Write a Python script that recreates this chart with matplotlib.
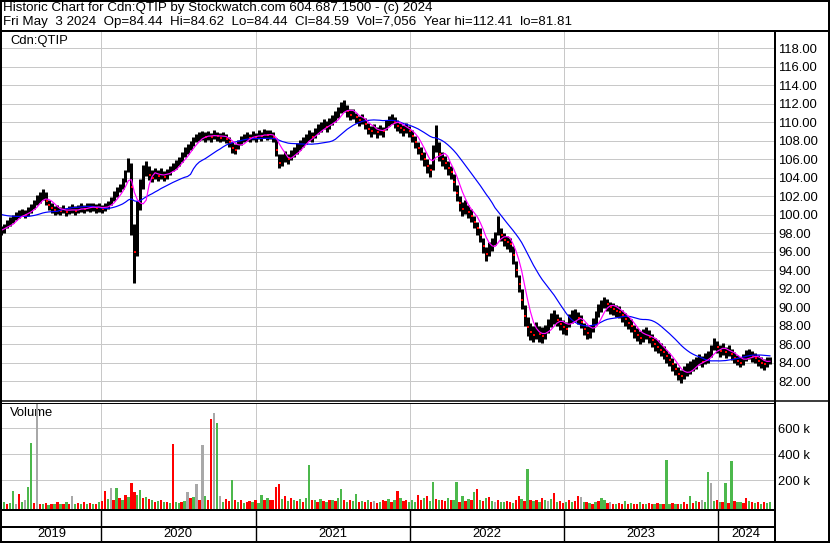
import numpy as np
import pandas as pd
import matplotlib
matplotlib.use("Agg")
import matplotlib.pyplot as plt
import matplotlib.dates as mdates
from matplotlib.lines import Line2D

plt.rcParams['font.family'] = ['Liberation Sans', 'DejaVu Sans']
plt.rcParams['font.size'] = 9

W, H = 830, 543

# weekly bars, 2019-05-10 .. 2024-05-03
dates = pd.date_range('2019-05-10', periods=261, freq='W-FRI')

close = [
    98.3, 98.6, 99.0, 99.3, 99.6, 99.8, 100.1, 100.2, 100.0, 100.4,
    100.7, 101.2, 101.6, 101.9, 102.2, 101.5, 101.0, 100.7, 100.5, 100.6,
    100.4, 100.6, 100.3, 100.5, 100.7, 100.4, 100.6, 100.8, 100.6, 100.9,
    100.8, 100.9, 100.7, 100.8, 100.6, 100.9, 101.1, 101.5, 102.0, 102.5,
    102.9, 103.4, 104.3, 105.3, 103.0, 96.0, 99.5, 102.5, 104.8, 105.0,
    104.3, 104.0, 104.5, 104.2, 104.6, 104.1, 104.4, 104.9, 105.2, 105.4,
    105.8, 106.3, 106.8, 107.1, 107.6, 108.0, 108.3, 108.5, 108.6, 108.4,
    108.6, 108.4, 108.7, 108.5, 108.3, 108.5, 108.2, 107.8, 107.2, 107.0,
    107.6, 108.0, 108.3, 108.5, 108.3, 108.6, 108.4, 108.7, 108.5, 108.8,
    108.6, 108.7, 108.4, 107.0, 105.6, 105.9, 106.4, 106.0, 106.5, 106.8,
    107.2, 107.6, 107.9, 108.2, 108.6, 108.4, 108.9, 109.3, 109.5, 109.8,
    109.5, 109.9, 110.3, 110.6, 111.0, 111.6, 111.8, 111.2, 110.8, 110.9,
    110.5, 110.2, 110.4, 109.8, 109.3, 109.0, 109.3, 108.9, 109.2, 109.0,
    109.7, 110.2, 110.4, 110.0, 109.6, 109.4, 109.1, 109.4, 109.0, 108.5,
    107.8, 107.2, 106.6, 106.0, 105.2, 104.8, 106.5, 108.4, 106.6, 106.0,
    105.6, 105.0, 104.6, 103.5, 102.3, 101.2, 100.6, 100.9, 100.3, 99.9,
    99.2, 98.5, 97.8, 96.6, 95.7, 96.2, 96.8, 97.4, 98.6, 97.8,
    97.3, 97.0, 96.8, 95.6, 94.0, 92.5, 90.8, 89.0, 87.8, 87.3,
    87.0, 87.4, 87.1, 86.9, 87.3, 87.9, 88.6, 89.0, 88.6, 88.2,
    87.8, 87.6, 88.5, 89.0, 89.2, 88.8, 88.4, 87.6, 87.2, 87.4,
    88.0, 88.8, 89.6, 90.2, 90.6, 90.3, 90.0, 89.8, 89.6, 89.5,
    89.1, 88.7, 88.3, 88.0, 87.4, 87.0, 86.7, 86.9, 87.2, 86.8,
    86.4, 86.0, 85.7, 85.4, 85.1, 84.7, 84.3, 83.8, 83.3, 82.8,
    82.5, 82.9, 83.2, 83.5, 83.8, 84.0, 84.3, 84.1, 84.4, 84.6,
    85.2, 86.1, 85.7, 85.2, 85.5, 85.1, 85.3, 84.9, 84.5, 84.2,
    84.0, 84.3, 84.8, 85.0, 84.7, 84.5, 84.2, 84.0, 83.8, 84.1,
    84.59,
]
high = [
    98.8, 99.0, 99.4, 99.7, 100.0, 100.3, 100.5, 100.6, 100.5, 100.8,
    101.1, 101.6, 102.1, 102.4, 102.8, 102.4, 101.6, 101.2, 100.9, 101.0,
    100.8, 101.0, 100.7, 100.9, 101.1, 100.9, 101.0, 101.2, 101.0, 101.3,
    101.2, 101.3, 101.1, 101.2, 101.0, 101.3, 101.5, 101.9, 102.5, 103.0,
    103.3, 104.0, 104.8, 106.1, 105.6, 99.0, 101.5, 103.8, 105.4, 105.8,
    105.2, 104.8, 105.0, 104.8, 105.0, 104.7, 104.9, 105.3, 105.6, 105.9,
    106.2, 106.8, 107.3, 107.6, 108.0, 108.4, 108.7, 108.9, 109.0, 108.9,
    109.0, 108.8, 109.1, 108.9, 108.8, 108.9, 108.7, 108.4, 107.8, 107.6,
    108.1, 108.5, 108.7, 108.9, 108.7, 109.0, 108.8, 109.1, 108.9, 109.2,
    109.1, 109.1, 108.9, 108.3, 106.6, 106.5, 106.9, 106.6, 107.0, 107.3,
    107.7, 108.1, 108.4, 108.7, 109.1, 108.9, 109.4, 109.8, 110.0, 110.3,
    110.1, 110.4, 110.8, 111.2, 111.6, 112.2, 112.4, 111.9, 111.4, 111.4,
    111.0, 110.7, 110.9, 110.4, 109.9, 109.6, 109.8, 109.5, 109.7, 109.5,
    110.2, 110.7, 110.9, 110.5, 110.2, 109.9, 109.7, 109.9, 109.6, 109.1,
    108.5, 107.9, 107.3, 106.8, 106.0, 105.5, 107.5, 109.7, 107.8, 106.8,
    106.3, 105.8, 105.3, 104.4, 103.2, 102.0, 101.4, 101.6, 101.0, 100.6,
    99.9, 99.2, 98.5, 97.5, 96.5, 97.0, 97.5, 98.1, 99.8, 98.6,
    98.0, 97.7, 97.5, 96.6, 95.0, 93.5, 91.9, 90.2, 88.9, 88.3,
    88.0, 88.4, 88.0, 87.8, 88.1, 88.7, 89.4, 89.7, 89.3, 88.9,
    88.6, 88.4, 89.2, 89.7, 89.8, 89.5, 89.1, 88.3, 87.9, 88.1,
    88.8, 89.6, 90.3, 90.8, 91.1, 90.9, 90.6, 90.4, 90.2, 90.1,
    89.7, 89.4, 89.0, 88.7, 88.1, 87.7, 87.4, 87.6, 87.8, 87.5,
    87.1, 86.7, 86.4, 86.1, 85.8, 85.4, 85.0, 84.5, 84.0, 83.5,
    83.2, 83.6, 83.9, 84.2, 84.4, 84.6, 84.9, 84.7, 85.0, 85.3,
    85.9, 86.7, 86.3, 85.9, 86.1, 85.7, 85.9, 85.5, 85.1, 84.8,
    84.6, 84.9, 85.4, 85.5, 85.2, 85.0, 84.8, 84.6, 84.4, 84.6,
    84.62,
]
low = [
    97.8, 98.0, 98.5, 98.8, 99.1, 99.4, 99.6, 99.8, 99.6, 99.9,
    100.2, 100.6, 101.0, 101.3, 101.6, 101.0, 100.5, 100.2, 100.0, 100.1,
    100.0, 100.2, 99.9, 100.1, 100.2, 100.0, 100.2, 100.3, 100.2, 100.4,
    100.3, 100.4, 100.2, 100.3, 100.2, 100.4, 100.6, 101.0, 101.5, 101.9,
    102.4, 102.8, 103.5, 104.6, 97.8, 92.6, 95.5, 100.5, 102.8, 104.2,
    103.7, 103.5, 103.8, 103.6, 103.9, 103.6, 103.8, 104.3, 104.7, 104.9,
    105.2, 105.7, 106.2, 106.6, 107.0, 107.4, 107.8, 108.0, 108.1, 107.9,
    108.1, 107.9, 108.2, 108.0, 107.8, 108.0, 107.7, 107.3, 106.7, 106.5,
    107.1, 107.5, 107.8, 108.0, 107.8, 108.1, 107.9, 108.2, 108.0, 108.3,
    108.1, 108.2, 107.9, 106.3, 105.0, 105.2, 105.7, 105.5, 105.9, 106.2,
    106.6, 107.0, 107.3, 107.6, 108.0, 107.9, 108.3, 108.7, 108.9, 109.2,
    108.9, 109.3, 109.7, 110.0, 110.4, 111.0, 111.1, 110.6, 110.2, 110.3,
    109.9, 109.6, 109.8, 109.2, 108.7, 108.4, 108.7, 108.3, 108.6, 108.4,
    109.1, 109.6, 109.8, 109.4, 109.0, 108.8, 108.5, 108.8, 108.4, 107.9,
    107.2, 106.5, 105.9, 105.3, 104.5, 104.1, 104.8, 106.8, 105.8, 105.2,
    104.9, 104.3, 103.8, 102.6, 101.5, 100.4, 99.9, 100.1, 99.6, 99.2,
    98.5, 97.8, 97.0, 95.8, 95.0, 95.5, 96.1, 96.7, 97.8, 97.1,
    96.6, 96.3, 96.0, 94.7, 93.2, 91.6, 89.8, 88.0, 86.9, 86.4,
    86.2, 86.5, 86.2, 86.1, 86.5, 87.2, 87.8, 88.2, 87.9, 87.5,
    87.1, 87.0, 87.8, 88.3, 88.5, 88.2, 87.7, 87.0, 86.5, 86.7,
    87.3, 88.1, 88.9, 89.5, 89.9, 89.6, 89.3, 89.1, 88.9, 88.8,
    88.4, 88.0, 87.6, 87.3, 86.7, 86.3, 86.0, 86.2, 86.5, 86.1,
    85.7, 85.3, 85.0, 84.7, 84.4, 84.0, 83.6, 83.1, 82.6, 82.1,
    81.8, 82.2, 82.5, 82.8, 83.1, 83.3, 83.7, 83.5, 83.8, 84.0,
    84.6, 85.4, 85.0, 84.6, 84.8, 84.5, 84.7, 84.3, 83.9, 83.7,
    83.5, 83.7, 84.2, 84.4, 84.1, 83.9, 83.6, 83.4, 83.2, 83.5,
    83.8,
]
# volume in thousands, colour code per bar: g up, r down, k unchanged
volume = [
    20, 35, 15, 25, 115, 20, 95, 30, 45, 150,
    490, 25, 1000, 20, 15, 25, 10, 20, 15, 30,
    15, 20, 30, 15, 80, 20, 25, 15, 30, 20,
    25, 15, 20, 30, 40, 120, 55, 140, 45, 140,
    60, 45, 90, 70, 180, 110, 85, 125, 60, 70,
    55, 45, 35, 40, 50, 30, 35, 25, 480, 30,
    25, 35, 40, 110, 60, 75, 170, 50, 470, 80,
    45, 670, 720, 640, 80, 35, 55, 40, 200, 45,
    30, 50, 25, 35, 40, 30, 45, 25, 90, 50,
    60, 45, 50, 150, 170, 55, 80, 40, 65, 50,
    40, 55, 35, 60, 320, 45, 50, 30, 55, 40,
    35, 50, 45, 40, 60, 130, 45, 35, 50, 40,
    95, 30, 40, 35, 45, 30, 40, 25, 35, 45,
    40, 55, 35, 50, 120, 60, 40, 45, 30, 50,
    35, 90, 45, 60, 80, 40, 185, 55, 50, 45,
    40, 60, 45, 50, 185, 35, 80, 40, 55, 45,
    110, 130, 50, 40, 60, 70, 40, 35, 45, 30,
    35, 40, 30, 25, 45, 80, 55, 40, 285, 45,
    40, 50, 35, 60, 45, 40, 55, 100, 30, 40,
    25, 35, 45, 30, 40, 80, 75, 30, 35, 25,
    20, 30, 40, 60, 45, 25, 30, 20, 15, 25,
    20, 40, 15, 25, 20, 15, 30, 20, 15, 25,
    15, 20, 25, 15, 20, 360, 15, 25, 20, 15,
    20, 30, 15, 80, 25, 40, 30, 50, 35, 260,
    180, 40, 45, 35, 30, 180, 25, 345, 40, 30,
    35, 25, 60, 40, 30, 25, 35, 20, 30, 25,
    35,
]
vol_dir = ("rgrggkrgkg" "grkrgrgrgr" "grgrkgrgrg" "rgrgrrgkrg" "rgrgrrggrg"
           "rgrgrgrgrg" "grgkrgkrkg" "rrkgkgrrgr" "grgrrgrggr" "grrrrgrgrg"
           "rgrggrgrgr" "grgrggrgrg" "grgrgrkrgr" "rgrgrgrrgg" "grrgrggrgr"
           "rgrggrgrgr" "grgrgrgkrg" "grrgrrgrgr" "grgrgkgrgr" "rgrgrrkgrg"
           "rgrggrkrgr" "rgrgrrgrgr" "rgrgrggrgr" "grrgrgrkgg" "kgrgrgrgrg"
           "grrgrgrgrgg")

# blue average already sits near 100 at the left edge (earlier history)
slow_ma_start = 100.1

price_ticks = np.arange(82, 119, 2)
vol_ticks = [200, 400, 600]
years = [2019, 2020, 2021, 2022, 2023, 2024]
header1 = "Historic Chart for Cdn:QTIP by Stockwatch.com 604.687.1500 - (c) 2024"
header2 = ("Fri May  3 2024  Op=84.44  Hi=84.62  Lo=84.44  Cl=84.59  "
           "Vol=7,056  Year hi=112.41  lo=81.81")

df = pd.DataFrame({"close": close, "high": high, "low": low,
                   "vol": volume, "dir": list(vol_dir)}, index=dates)
df["ma_fast"] = df["close"].rolling(5, min_periods=1).mean()
seeded = pd.concat([pd.Series([slow_ma_start] * 19), pd.Series(close)],
                   ignore_index=True)
df["ma_slow"] = seeded.rolling(20).mean().iloc[19:].values
down = df[df["close"].diff() < 0]
cmap = {"g": "#4cb84c", "r": "#ff0000", "k": "#a8a8a8"}
bar_colors = [cmap[c] for c in df["dir"]]

xmin = mdates.date2num(pd.Timestamp("2020-01-01")) - 234.4
xmax = mdates.date2num(pd.Timestamp("2024-01-01")) + 132.6
bounds = [mdates.date2num(pd.Timestamp(f"{y}-01-01")) for y in years[1:]]
grid_c = "#c8c8c8"
px = 72 / 100
fs = 9.4


def fig_line(x0, y0, x1, y1, lw=2):
    fig.add_artist(Line2D([x0 / W, x1 / W], [1 - y0 / H, 1 - y1 / H],
                          transform=fig.transFigure, color="black",
                          lw=lw * px, solid_capstyle="butt"))


fig = plt.figure(figsize=(W / 100, H / 100), dpi=100)

ax_p = fig.add_axes([2 / W, 1 - 400 / H, 772 / W, 369 / H])
ax_v = fig.add_axes([2 / W, 1 - 509 / H, 772 / W, 106 / H])
ax_y = fig.add_axes([2 / W, 1 - 541 / H, 772 / W, 31 / H])

for ax in (ax_p, ax_v, ax_y):
    ax.set_xlim(xmin, xmax)
    for s in ax.spines.values():
        s.set_visible(False)
    ax.set_xticks(bounds)
    ax.tick_params(axis="x", length=0, labelbottom=False)

# price panel
ax_p.set_ylim(79.95, 119.85)
ax_p.yaxis.tick_right()
ax_p.set_yticks(price_ticks)
ax_p.set_yticklabels([f"{v:.2f}" for v in price_ticks])
ax_p.tick_params(axis="y", length=0, pad=3, labelsize=fs)
ax_p.grid(True, color=grid_c, lw=1 * px)
ax_p.set_axisbelow(True)
ax_p.vlines(df.index, df["low"], df["high"], color="black", lw=3 * px, zorder=3)
ax_p.plot(down.index + pd.Timedelta(days=2), down["close"], "s", ms=2 * px,
          mew=0, color="#ff0000", zorder=4)
ax_p.plot(df.index, df["ma_slow"], color="#0000ff", lw=1.2 * px, zorder=5)
ax_p.plot(df.index, df["ma_fast"], color="#ff00ff", lw=1.2 * px, zorder=5)
ax_p.text(8 / 772, 1 - 10 / 369, "Cdn:QTIP", transform=ax_p.transAxes,
          ha="left", va="center", fontsize=fs, zorder=1)

# volume panel
vfloor = -21
ax_v.set_ylim(vfloor, 795)
ax_v.yaxis.tick_right()
ax_v.set_yticks(vol_ticks)
ax_v.set_yticklabels([f"{v} k" for v in vol_ticks])
ax_v.tick_params(axis="y", length=0, pad=3, labelsize=fs)
ax_v.grid(True, color=grid_c, lw=1 * px)
ax_v.set_axisbelow(True)
ax_v.text(8 / 772, 1 - 10 / 106, "Volume", transform=ax_v.transAxes,
          ha="left", va="center", fontsize=fs, zorder=1)
ax_v.bar(df.index, df["vol"] - vfloor, bottom=vfloor, width=5.5,
         color=bar_colors, lw=0, zorder=3)

# year strip
ax_y.set_ylim(0, 1)
ax_y.set_yticks([])
ax_y.vlines(bounds, 0, 1, color="black", lw=1.4 * px)
edges = [xmin] + bounds + [xmax]
for yr, a, b in zip(years, edges[:-1], edges[1:]):
    ax_y.text((a + b) / 2, 0.23, str(yr), ha="center", va="center", fontsize=fs)

# frame lines
fig_line(0, 1, W, 1)
fig_line(1, 0, 1, H)
fig_line(W - 1, 0, W - 1, H)
fig_line(0, H - 1.5, W, H - 1.5)
fig_line(0, 30.5, W, 30.5)
fig_line(775, 30, 775, H)
fig_line(0, 400.5, W, 400.5, lw=1.5)
fig_line(0, 403, 775, 403, lw=1)
fig_line(0, 509.5, 775, 509.5)
fig_line(0, 526.5, 775, 526.5)

fig.text(3 / W, 1 - 7.5 / H, header1, ha="left", va="center", fontsize=9.6)
fig.text(3 / W, 1 - 21.5 / H, header2, ha="left", va="center", fontsize=9.6)

fig.savefig("out.png", dpi=100)
